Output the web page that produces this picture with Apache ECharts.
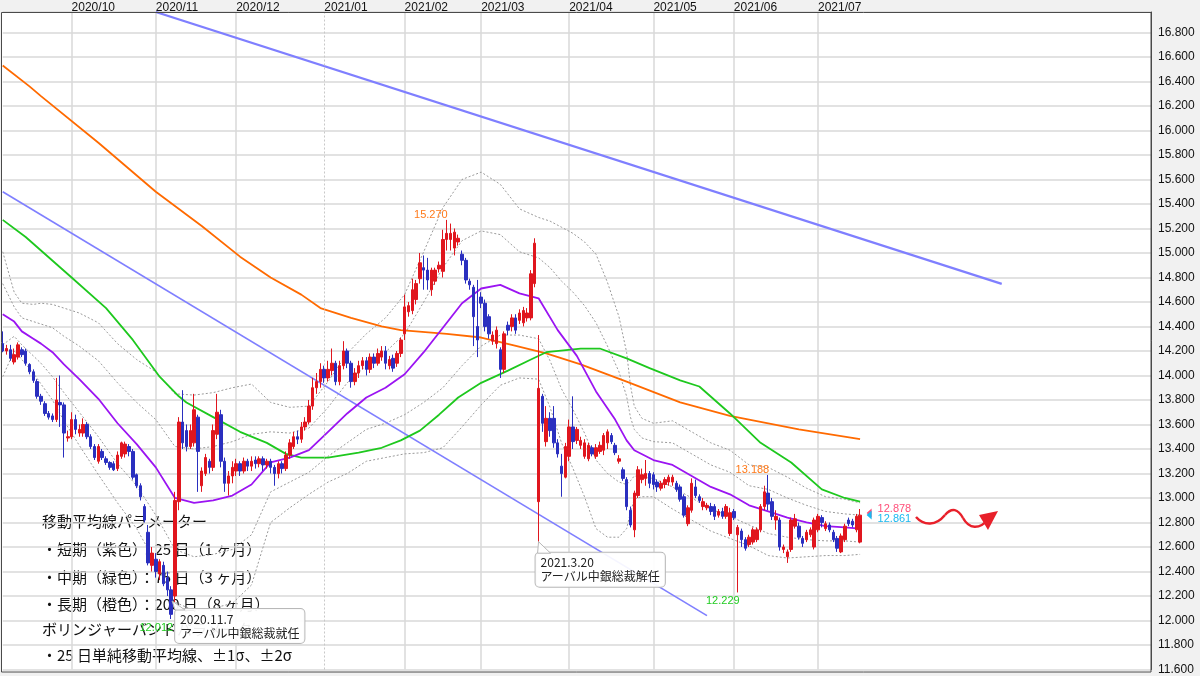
<!DOCTYPE html>
<html><head><meta charset="utf-8">
<script src="https://cdn.jsdelivr.net/npm/echarts@6/dist/echarts.min.js"></script>
<style>html,body{margin:0;padding:0;background:#f1f1f1}#c{width:1200px;height:676px}</style>
</head><body><div id="c"></div>
<script>
// ---------- data ----------
const startDate = [2020, 9, 7];      // first trading day shown (weekdays only)
const totalDays = 301;               // weekday slots on the axis (incl. empty future)
const monthLabels = ['2020/10','2020/11','2020/12','2021/01','2021/02','2021/03','2021/04','2021/05','2021/06','2021/07'];
const yearBoundaryLabel = '2021/01';
const yTicks = {min: 11.6, max: 16.967, step: 0.2};

// daily candles [open, close, low, high] from 2020-09-07
const ohlc = [
[14.26,14.20,14.19,14.36],[14.20,14.22,14.17,14.25],[14.21,14.14,14.12,14.25],[14.11,14.17,14.09,14.22],[14.15,14.25,14.13,14.27],
[14.21,14.17,14.15,14.23],[14.20,14.10,14.08,14.22],[14.09,14.03,14.01,14.10],[14.03,13.96,13.94,14.05],[13.95,13.83,13.81,13.97],
[13.83,13.79,13.76,13.85],[13.77,13.69,13.67,13.79],[13.69,13.66,13.64,13.71],[13.67,13.64,13.62,13.69],[13.64,13.80,13.62,13.98],
[13.78,13.76,13.58,14.00],[13.76,13.53,13.33,13.78],[13.49,13.50,13.46,13.55],[13.50,13.64,13.48,13.70],[13.64,13.56,13.52,13.68],
[13.53,13.56,13.50,13.60],[13.53,13.60,13.50,13.65],[13.60,13.50,13.48,13.62],[13.50,13.42,13.40,13.52],[13.42,13.33,13.31,13.44],
[13.30,13.42,13.28,13.44],[13.38,13.33,13.31,13.40],[13.32,13.29,13.27,13.34],[13.29,13.25,13.23,13.30],[13.28,13.23,13.22,13.30],
[13.24,13.35,13.22,13.38],[13.34,13.45,13.32,13.46],[13.36,13.44,13.33,13.46],[13.42,13.38,13.34,13.44],[13.38,13.17,13.15,13.40],
[13.19,13.10,13.08,13.20],[13.10,13.01,12.98,13.12],[12.93,12.82,12.80,12.95],[12.72,12.47,12.45,12.78],[12.45,12.55,12.40,12.60],
[12.50,12.40,12.35,12.55],[12.38,12.48,12.33,12.50],[12.45,12.30,12.28,12.48],[12.35,12.25,12.20,12.40],[12.25,12.05,12.012,12.28],
[12.20,12.98,12.15,13.05],[12.97,13.62,12.90,13.66],[13.62,13.45,13.40,13.88],[13.55,13.42,13.38,13.60],[13.42,13.55,13.40,13.60],
[13.45,13.72,13.42,13.85],[13.66,13.38,13.05,13.68],[13.10,13.22,13.05,13.25],[13.20,13.33,13.18,13.36],[13.30,13.25,13.20,13.32],
[13.25,13.55,13.22,13.60],[13.52,13.70,13.48,13.85],[13.68,13.30,13.25,13.72],[13.30,13.12,13.05,13.33],[13.12,13.18,13.02,13.22],
[13.18,13.25,13.12,13.30],[13.22,13.28,13.18,13.32],[13.28,13.22,13.18,13.30],[13.22,13.30,13.20,13.33],[13.30,13.26,13.22,13.32],
[13.26,13.30,13.22,13.34],[13.31,13.28,13.24,13.34],[13.28,13.32,13.25,13.34],[13.32,13.27,13.22,13.34],[13.27,13.30,13.24,13.32],
[13.30,13.25,13.20,13.32],[13.25,13.20,13.10,13.27],[13.20,13.28,13.16,13.30],[13.28,13.24,13.20,13.30],[13.24,13.35,13.22,13.38],
[13.35,13.45,13.32,13.48],[13.42,13.50,13.40,13.54],[13.50,13.48,13.44,13.55],[13.48,13.58,13.45,13.62],[13.58,13.62,13.55,13.66],
[13.62,13.75,13.60,13.80],[13.75,13.90,13.72,13.98],[13.90,13.95,13.85,14.02],[13.95,14.05,13.90,14.10],[14.05,13.98,13.94,14.08],
[13.98,14.05,13.95,14.12],[14.04,14.10,14.00,14.22],[14.10,13.95,13.92,14.12],[13.95,14.08,13.92,14.12],[14.08,14.20,14.05,14.28],
[14.20,14.10,14.06,14.22],[14.10,13.95,13.90,14.12],[13.95,14.02,13.92,14.06],[14.02,14.08,13.98,14.12],[14.08,14.12,14.05,14.15],
[14.12,14.05,14.00,14.15],[14.05,14.15,14.02,14.18],[14.15,14.10,14.06,14.18],[14.10,14.18,14.08,14.22],[14.15,14.20,14.12,14.24],
[14.20,14.10,14.05,14.24],[14.08,14.13,14.05,14.16],[14.14,14.06,14.03,14.17],[14.10,14.18,14.07,14.20],[14.18,14.29,14.15,14.31],
[14.34,14.56,14.29,14.66],[14.52,14.57,14.48,14.60],[14.53,14.70,14.50,14.79],[14.62,14.75,14.58,14.78],[14.79,14.92,14.75,15.00],
[14.88,14.86,14.70,14.98],[14.86,14.78,14.70,14.96],[14.70,14.86,14.65,14.88],[14.77,14.86,14.74,14.88],[14.87,14.90,14.84,14.93],
[14.85,15.11,14.80,15.19],[15.11,15.16,15.02,15.27],[15.11,15.16,15.02,15.24],[15.04,15.17,14.98,15.20],[15.09,15.12,15.06,15.15],
[14.99,14.94,14.90,15.02],[14.94,14.78,14.75,14.96],[14.77,14.74,14.70,14.79],[14.72,14.48,14.24,14.74],[14.40,14.29,14.15,14.78],
[14.64,14.59,14.55,14.68],[14.59,14.40,14.36,14.62],[14.48,14.34,14.30,14.50],[14.28,14.33,14.25,14.36],[14.26,14.37,14.22,14.40],
[14.21,14.05,13.98,14.23],[14.05,14.34,14.02,14.36],[14.41,14.37,14.33,14.44],[14.40,14.47,14.36,14.50],[14.47,14.37,14.34,14.50],
[14.45,14.51,14.42,14.54],[14.43,14.53,14.40,14.56],[14.47,14.51,14.44,14.55],[14.47,14.83,14.45,14.86],[14.75,15.08,14.72,15.12],
[12.97,13.895,12.643,14.33],[13.83,13.61,13.54,13.85],[13.46,13.65,13.42,13.75],[13.65,13.55,13.50,13.70],[13.65,13.45,13.41,13.75],
[13.45,13.36,13.33,13.48],[13.26,13.20,13.01,13.36],[13.17,13.42,13.16,13.45],[13.34,13.58,13.30,13.64],[13.58,13.46,13.40,13.83],
[13.47,13.56,13.44,13.58],[13.43,13.47,13.40,13.50],[13.34,13.45,13.32,13.48],[13.32,13.43,13.30,13.45],[13.41,13.36,13.34,13.43],
[13.34,13.41,13.32,13.44],[13.38,13.43,13.36,13.46],[13.39,13.51,13.35,13.53],[13.45,13.54,13.40,13.56],[13.51,13.46,13.44,13.53],
[13.43,13.37,13.35,13.45],[13.30,13.32,13.28,13.35],[13.23,13.16,13.14,13.25],[13.15,12.93,12.90,13.17],[12.90,12.78,12.76,12.93],
[12.74,13.04,12.68,13.06],[13.02,13.23,13.00,13.26],[13.15,13.19,13.12,13.24],[13.16,13.20,13.10,13.31],[13.20,13.12,13.08,13.22],
[13.19,13.11,13.07,13.21],[13.13,13.09,13.05,13.15],[13.08,13.12,13.06,13.14],[13.11,13.15,13.08,13.17],[13.13,13.17,13.10,13.19],
[13.13,13.17,13.10,13.19],[13.12,13.07,13.05,13.14],[13.09,12.99,12.97,13.11],[13.01,12.86,12.84,13.03],[12.79,12.92,12.77,12.94],
[12.90,13.12,12.88,13.16],[13.09,13.02,13.00,13.15],[13.01,12.98,12.96,13.03],[12.93,12.97,12.90,13.00],[12.92,12.94,12.90,12.96],
[12.93,12.89,12.86,12.96],[12.93,12.85,12.82,12.95],[12.86,12.89,12.84,12.91],[12.89,12.85,12.83,12.92],[12.85,12.93,12.83,12.95],
[12.71,12.88,12.69,12.92],[12.89,12.84,12.82,12.91],[12.70,12.76,12.229,12.78],[12.73,12.66,12.60,12.75],[12.66,12.59,12.57,12.68],
[12.62,12.68,12.60,12.70],[12.64,12.74,12.62,12.76],[12.66,12.74,12.64,12.76],[12.74,12.93,12.72,12.95],[12.93,13.05,12.90,13.10],
[13.04,12.95,12.90,13.188],[12.97,12.85,12.82,13.00],[12.82,12.85,12.74,12.90],[12.82,12.60,12.57,12.84],[12.58,12.60,12.55,12.62],
[12.52,12.56,12.47,12.58],[12.58,12.82,12.56,12.84],[12.77,12.83,12.75,12.87],[12.77,12.68,12.66,12.80],[12.67,12.63,12.60,12.69],
[12.66,12.72,12.64,12.74],[12.70,12.74,12.68,12.76],[12.60,12.82,12.58,12.84],[12.74,12.85,12.72,12.87],[12.84,12.80,12.76,12.86],
[12.75,12.79,12.73,12.81],[12.78,12.74,12.72,12.80],[12.72,12.66,12.64,12.74],[12.67,12.59,12.56,12.69],[12.56,12.69,12.55,12.71],
[12.66,12.77,12.64,12.79],[12.82,12.79,12.77,12.84],[12.81,12.78,12.76,12.83],[12.74,12.85,12.72,12.87],[12.64,12.86,12.63,12.91]
];

// moving averages: [day index, value]
const ma25 = [[0,14.50],[3,14.44],[5,14.36],[8,14.30],[10,14.26],[13,14.19],[16,14.09],[20,13.97],[25,13.81],[30,13.61],[35,13.44],[40,13.25],[45,13.00],[50,12.96],[55,12.98],[60,13.02],[65,13.11],[70,13.29],[75,13.33],[80,13.39],[85,13.54],[90,13.69],[95,13.82],[100,13.90],[105,14.01],[110,14.19],[115,14.39],[120,14.59],[125,14.71],[130,14.74],[135,14.67],[140,14.63],[145,14.37],[150,14.16],[155,13.87],[160,13.64],[163,13.47],[165,13.39],[170,13.31],[175,13.27],[180,13.18],[185,13.09],[190,13.03],[195,12.94],[200,12.89],[205,12.84],[210,12.80],[215,12.77],[220,12.76],[224,12.75]];
const ma75 = [[0,15.27],[6,15.13],[18,14.80],[27,14.55],[34,14.29],[41,13.99],[46,13.83],[48,13.78],[55,13.66],[62,13.54],[69,13.45],[74,13.36],[78,13.33],[85,13.33],[93,13.37],[99,13.41],[104,13.47],[109,13.55],[114,13.68],[119,13.82],[125,13.94],[132,14.04],[138,14.13],[142,14.19],[151,14.22],[156,14.22],[163,14.14],[169,14.06],[177,13.96],[182,13.91],[190,13.69],[198,13.45],[206,13.29],[214,13.07],[220,13.00],[224,12.97]];
const ma200 = [[0,16.53],[7,16.36],[10,16.28],[25,15.90],[40,15.50],[52,15.22],[62,14.97],[70,14.80],[78,14.66],[83,14.55],[91,14.47],[99,14.40],[104,14.37],[116,14.34],[125,14.31],[133,14.25],[142,14.18],[151,14.09],[163,13.95],[177,13.78],[190,13.67],[208,13.56],[224,13.48]];

// Bollinger bands (25 day)
const bbDays = [0,3,5,8,10,13,16,20,25,30,35,40,45,50,55,60,65,70,75,80,85,90,95,100,105,110,115,120,125,130,135,140,143,146,149,152,155,158,161,163,164,165,167,170,175,180,185,190,195,200,205,210,215,220,224];
const bbUp2 = [15.01,14.68,14.59,14.58,14.59,14.58,14.55,14.51,14.43,14.26,14.13,14.03,13.85,13.84,13.86,13.90,13.93,13.78,13.74,13.75,13.95,14.18,14.34,14.47,14.66,15.01,15.37,15.60,15.66,15.56,15.36,15.29,15.26,15.21,15.16,15.09,14.99,14.76,14.48,14.19,13.92,13.75,13.65,13.61,13.63,13.54,13.45,13.39,13.27,13.25,13.17,13.08,13.01,12.99,12.96];
const bbUp1 = [14.75,14.56,14.47,14.44,14.42,14.39,14.32,14.24,14.12,13.94,13.78,13.64,13.42,13.40,13.42,13.46,13.52,13.54,13.53,13.57,13.74,13.94,14.08,14.19,14.34,14.60,14.88,15.10,15.18,15.15,15.01,14.96,14.88,14.77,14.68,14.57,14.43,14.24,14.03,13.83,13.66,13.56,13.49,13.46,13.45,13.36,13.27,13.21,13.10,13.07,13.00,12.94,12.89,12.87,12.86];
const bbLo1 = [14.25,14.32,14.25,14.16,14.10,13.99,13.86,13.70,13.50,13.28,13.10,12.86,12.58,12.52,12.54,12.58,12.70,13.05,13.13,13.21,13.34,13.45,13.56,13.61,13.68,13.78,13.90,14.08,14.24,14.33,14.33,14.30,14.12,13.89,13.72,13.53,13.31,13.20,13.13,13.11,13.14,13.18,13.17,13.16,13.09,13.00,12.91,12.85,12.78,12.71,12.68,12.66,12.65,12.65,12.64];
const bbLo2 = [13.99,14.20,14.13,14.02,13.93,13.80,13.63,13.43,13.19,12.96,12.75,12.47,12.15,12.08,12.10,12.14,12.29,12.80,12.92,13.03,13.13,13.20,13.30,13.33,13.36,13.37,13.41,13.58,13.76,13.92,13.98,13.97,13.74,13.45,13.24,13.01,12.75,12.68,12.68,12.75,12.88,12.99,13.01,13.01,12.91,12.82,12.73,12.67,12.61,12.53,12.51,12.52,12.53,12.53,12.54];

// trend lines: [day index, value] end points
const trendUpper = [[40,16.967],[261,14.748]];
const trendLower = [[0,15.50],[184,12.04]];

// labelled extremes [day index, value, text]
const highMarks = [[116,15.27,'15.270'],[200,13.188,'13.188']];
const lowMarks = [[44,12.012,'12.012'],[192,12.229,'12.229']];
const lastIdx = 224;
const priceTags = [[12.878,'12.878','#ff4f79'],[12.861,'12.861','#1ab8f0']];

const events = [
  {idx:44, val:12.012, title:'2020.11.7', text:'アーバル中銀総裁就任'},
  {idx:140, val:12.643, title:'2021.3.20', text:'アーバル中銀総裁解任'}
];
const noteLines = [
  '移動平均線パラメーター',
  '・短期（紫色）：25 日（1 ヶ月）',
  '・中期（緑色）：75 日（3 ヶ月）',
  '・長期（橙色）：200 日（8 ヶ月）',
  'ボリンジャーバンドパラメーター',
  '・25 日単純移動平均線、±1σ、±2σ'
];

// ---------- build ----------
const dates = [];
{
  const d = new Date(Date.UTC(startDate[0], startDate[1]-1, startDate[2]));
  while (dates.length < totalDays) {
    const wd = d.getUTCDay();
    if (wd !== 0 && wd !== 6) {
      const y = d.getUTCFullYear(), m = String(d.getUTCMonth()+1).padStart(2,'0'), dd = String(d.getUTCDate()).padStart(2,'0');
      dates.push(y + '/' + m + '/' + dd);
    }
    d.setUTCDate(d.getUTCDate()+1);
  }
}
const labelIdx = new Set(), splitIdx = new Set();
let yearIdx = -1;
for (let i = 1; i < dates.length; i++) {
  const ym = dates[i].slice(0,7);
  if (ym !== dates[i-1].slice(0,7) && monthLabels.includes(ym)) {
    labelIdx.add(i);
    if (ym === yearBoundaryLabel) yearIdx = i; else splitIdx.add(i);
  }
}
const bbSeries = (arr) => bbDays.map((d, k) => [d, arr[k]]);
const FONT = '"Liberation Sans", Arial, sans-serif';
const JP = '"Noto Sans CJK JP", sans-serif';

function line(data, color, width, type, z) {
  return {type:'line', data, symbol:'none', smooth:false, silent:true, z: z || 3,
    lineStyle:{color, width, type: type || 'solid'}, emphasis:{disabled:true}};
}

const markData = [];
highMarks.forEach(m => markData.push({coord:[m[0], m[1]], symbol:'circle', symbolSize:0,
  label:{show:true, formatter:m[2], position:[1,-5], align:'right', verticalAlign:'middle', color:'#ff7a1a', fontSize:11, fontFamily:FONT}}));
lowMarks.forEach(m => markData.push({coord:[m[0], m[1]], symbol:'circle', symbolSize:0,
  label:{show:true, formatter:m[2], position:[2,9], align:'right', verticalAlign:'middle', color:'#22cc22', fontSize:11, fontFamily:FONT}}));
priceTags.forEach((t, k) => markData.push({coord:[lastIdx, t[0]], symbol:'triangle', symbolRotate:90, symbolSize:[9,5], symbolOffset:[9,0],
  itemStyle:{color:t[2]},
  label:{show:true, formatter:t[1], position:'right', distance:6, offset:[0, k===0 ? -4 : 4], color:t[2], fontSize:11, fontFamily:FONT}}));
events.forEach((e, k) => markData.push({coord:[e.idx, e.val], symbol:'circle', symbolSize:0,
  label:{show:true, formatter:'{a|' + e.title + '}\n{a|' + e.text + '}', position: k===0 ? [4,-10] : [-3,11], align:'left', verticalAlign:'top',
    backgroundColor:'rgba(255,255,255,0.92)', borderColor:'#b8b8b8', borderWidth:1, borderRadius:4, padding:[3,5],
    rich:{a:{fontSize:12, lineHeight:14, color:'#222', fontFamily:JP}}}}));

// hand-drawn squiggle arrow (decoration)
const squiggle = [
  [916,517, 924,526, 936,526, 945,515],
  [945,515, 952,507, 958,509, 963,518],
  [963,518, 969,529, 979,530, 989,519]
];

const baseGraphic = [
  {type:'rect', z:-10, silent:true, shape:{x:1.5, y:12, width:1149.5, height:660}, style:{fill:'#ffffff'}},
  {type:'rect', z:50, silent:true, shape:{x:1.5, y:12.5, width:1149.5, height:659.5}, style:{fill:null, stroke:'#4a4a4a', lineWidth:1}},
  {type:'group', z:100, silent:true, children: noteLines.map((t, k) => ({type:'text', x:42, y:[521,549,577,604,629,655][k],
    style:{text:t, font:'15px ' + JP, fill:'#111', verticalAlign:'middle'}}))}
].concat(squiggle.map(s => ({type:'bezierCurve', z:100, silent:true,
  shape:{x1:s[0], y1:s[1], cpx1:s[2], cpy1:s[3], cpx2:s[4], cpy2:s[5], x2:s[6], y2:s[7]},
  style:{stroke:'#e8202a', lineWidth:2.5, fill:null}}))).concat([
  {type:'polygon', z:100, silent:true, shape:{points:[[998,511],[979,515],[988,530]]}, style:{fill:'#e8202a'}}
]);

const option = {
  backgroundColor:'#f1f1f1',
  animation:false,
  grid:{left:2.7, right:49, top:12, bottom:6.5, outerBoundsMode:'none', containLabel:false},
  xAxis:{type:'category', data:dates, boundaryGap:false, position:'top', offset:-4,
    axisLine:{show:false}, axisTick:{show:false},
    axisLabel:{interval:(i)=>labelIdx.has(i), formatter:(v)=>v.slice(0,7), align:'left', margin:2, color:'#111', fontSize:12, fontFamily:FONT},
    splitLine:{show:true, interval:(i)=>splitIdx.has(i), lineStyle:{color:'#d9d9d9', width:1.5}}},
  yAxis:{type:'value', position:'right', min:yTicks.min, max:yTicks.max, interval:yTicks.step,
    axisLine:{show:true, lineStyle:{color:'#4a4a4a', width:1}}, axisTick:{show:false},
    axisLabel:{formatter:(v)=> v > 16.85 ? '' : v.toFixed(3), margin:7, color:'#111', fontSize:12, fontFamily:FONT},
    splitLine:{show:true, lineStyle:{color:'#d9d9d9', width:1.5}}},
  graphic: baseGraphic,
  series:[
    line(bbSeries(bbUp2), '#9a9a9a', 1, [2,2], 2),
    line(bbSeries(bbUp1), '#9a9a9a', 1, [2,2], 2),
    line(bbSeries(bbLo1), '#9a9a9a', 1, [2,2], 2),
    line(bbSeries(bbLo2), '#9a9a9a', 1, [2,2], 2),
    Object.assign(line(trendUpper, '#7f7fff', 2.2, 'solid', 3), {markLine:{silent:true, symbol:'none', label:{show:false},
      lineStyle:{color:'#c8c8c8', type:[2,2], width:1}, data: yearIdx >= 0 ? [{xAxis: yearIdx}] : []}}),
    line(trendLower, '#7f7fff', 1.6, 'solid', 3),
    line(ma200, '#ff6a00', 1.8, 'solid', 4),
    line(ma75, '#1ec81e', 1.8, 'solid', 4),
    line(ma25, '#9b14f2', 1.8, 'solid', 4),
    {type:'candlestick', data:ohlc, barWidth:3, z:5, silent:true,
      itemStyle:{color:'#e0161e', color0:'#2a2fbf', borderColor:'#e0161e', borderColor0:'#2a2fbf', borderWidth:1},
      markPoint:{silent:true, z:20, data:markData}}
  ]
};
const chart = echarts.init(document.getElementById('c'), null, {width:1200, height:676});
chart.setOption(option);
// callout tails pointing at the event candles
const tails = events.map((e, k) => {
  const p = chart.convertToPixel({gridIndex:0}, [e.idx, e.val]);
  const pts = k === 0 ? [[p[0]+1, p[1]-18], [p[0]+4, p[1]-9], [p[0]+14, p[1]-9]] : [[p[0], p[1]], [p[0]-1, p[1]+11.5], [p[0]+12, p[1]+11.5]];
  return {type:'polygon', z:30, silent:true, shape:{points:pts}, style:{stroke:'#b8b8b8', fill:'rgba(255,255,255,0.92)', lineWidth:1}};
});
chart.setOption({graphic: baseGraphic.concat(tails)});
</script></body></html>
